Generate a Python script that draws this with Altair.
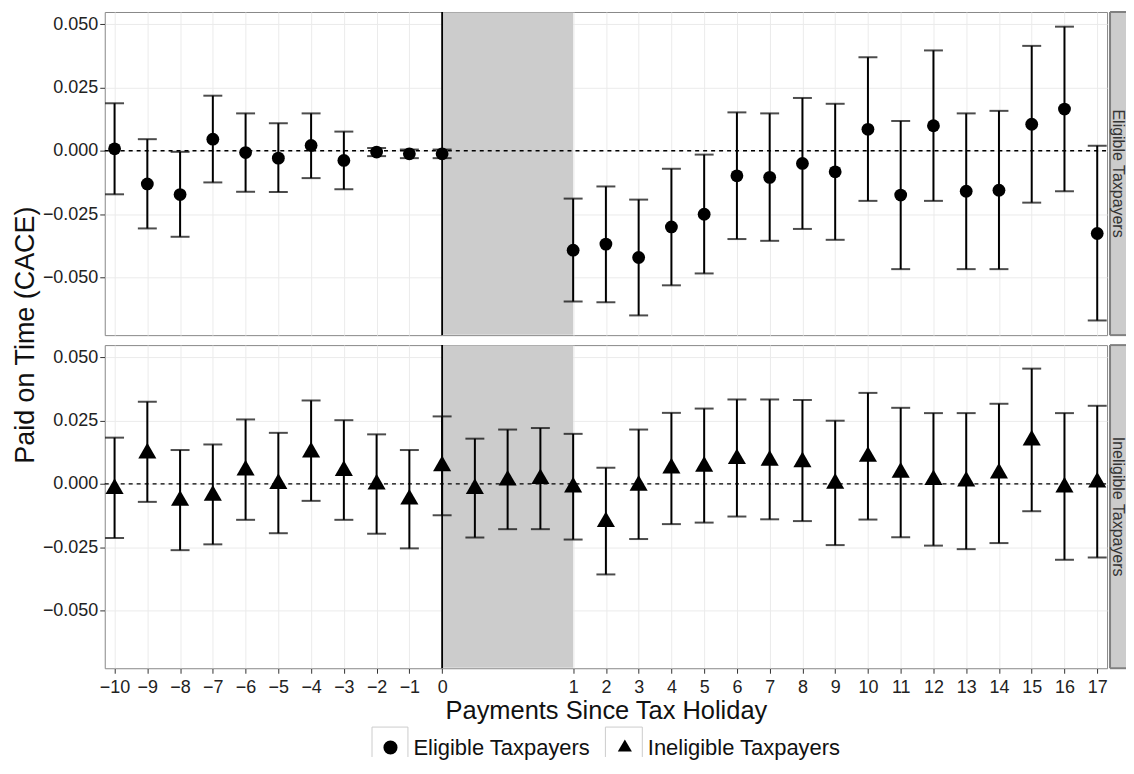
import altair as alt
import pandas as pd

PANELS = ["Eligible Taxpayers", "Ineligible Taxpayers"]

# Positions on the x scale: -10..0 before the holiday, 1..3 inside it,
# 4..20 after it (shown as payments 1..17)
ELIG_X = [-10, -9, -8, -7, -6, -5, -4, -3, -2, -1, 0,
          4, 5, 6, 7, 8, 9, 10, 11, 12, 13, 14, 15, 16, 17, 18, 19, 20]
ELIG_EST = [0.0008, -0.0131, -0.0173, 0.0046, -0.0007, -0.0029, 0.0021, -0.0038, -0.0005, -0.0012, -0.0012,
            -0.0393, -0.0369, -0.0422, -0.0301, -0.0251, -0.0099, -0.0105, -0.0050, -0.0083, 0.0085,
            -0.0175, 0.0099, -0.0160, -0.0156, 0.0105, 0.0165, -0.0327]
ELIG_LO = [-0.0172, -0.0307, -0.0340, -0.0125, -0.0162, -0.0163, -0.0108, -0.0152, -0.0021, -0.0029, -0.0029,
           -0.0596, -0.0599, -0.0651, -0.0532, -0.0485, -0.0349, -0.0356, -0.0309, -0.0352, -0.0198,
           -0.0468, -0.0198, -0.0468, -0.0468, -0.0205, -0.0160, -0.0671]
ELIG_HI = [0.0188, 0.0046, -0.0004, 0.0218, 0.0148, 0.0109, 0.0148, 0.0076, 0.0011, 0.0005, 0.0005,
           -0.0189, -0.0141, -0.0193, -0.0071, -0.0015, 0.0152, 0.0148, 0.0209, 0.0186, 0.0370,
           0.0118, 0.0397, 0.0148, 0.0158, 0.0415, 0.0491, 0.0020]

INEL_X = [-10, -9, -8, -7, -6, -5, -4, -3, -2, -1, 0, 1, 2, 3,
          4, 5, 6, 7, 8, 9, 10, 11, 12, 13, 14, 15, 16, 17, 18, 19, 20]
INEL_EST = [-0.0019, 0.0121, -0.0066, -0.0046, 0.0054, 0.0001, 0.0125, 0.0052, -0.0001, -0.0061, 0.0071,
            -0.0019, 0.0014, 0.0020,
            -0.0013, -0.0150, -0.0006, 0.0062, 0.0069, 0.0099, 0.0093, 0.0087, 0.0002, 0.0108,
            0.0045, 0.0016, 0.0010, 0.0042, 0.0173, -0.0013, 0.0006]
INEL_LO = [-0.0214, -0.0071, -0.0262, -0.0239, -0.0142, -0.0195, -0.0067, -0.0142, -0.0197, -0.0255, -0.0124,
           -0.0212, -0.0179, -0.0179,
           -0.0220, -0.0358, -0.0218, -0.0159, -0.0153, -0.0129, -0.0140, -0.0147, -0.0242, -0.0141,
           -0.0211, -0.0244, -0.0258, -0.0234, -0.0108, -0.0300, -0.0291]
INEL_HI = [0.0183, 0.0325, 0.0134, 0.0156, 0.0255, 0.0202, 0.0330, 0.0252, 0.0196, 0.0134, 0.0267,
           0.0179, 0.0215, 0.0221,
           0.0198, 0.0064, 0.0215, 0.0281, 0.0298, 0.0334, 0.0334, 0.0332, 0.0250, 0.0360,
           0.0301, 0.0280, 0.0280, 0.0317, 0.0456, 0.0280, 0.0309]

HOLIDAY = [0, 4]
X_TICKS = [-10, -9, -8, -7, -6, -5, -4, -3, -2, -1, 0,
           4, 5, 6, 7, 8, 9, 10, 11, 12, 13, 14, 15, 16, 17, 18, 19, 20]
Y_TICKS = [-0.05, -0.025, 0.0, 0.025, 0.05]
X_DOMAIN = [-10.3, 20.3]
Y_DOMAIN = [-0.0729, 0.0549]

W, H = 1005, 324
FONT = "Liberation Sans"
TRI = "M0,-1.155L1,0.577L-1,0.577Z"

elig = pd.DataFrame({"x": ELIG_X, "est": ELIG_EST, "lo": ELIG_LO, "hi": ELIG_HI, "group": PANELS[0]})
inel = pd.DataFrame({"x": INEL_X, "est": INEL_EST, "lo": INEL_LO, "hi": INEL_HI, "group": PANELS[1]})
hol = pd.DataFrame({"start": [HOLIDAY[0]], "end": [HOLIDAY[1]], "zero": [0.0]})


def make_panel(df, label, size, bottom):
    xs = alt.Scale(domain=X_DOMAIN, nice=False, zero=False)
    ys = alt.Scale(domain=Y_DOMAIN, nice=False, zero=False)
    xaxis = alt.Axis(values=X_TICKS, grid=True, domain=False, labels=bottom, ticks=bottom,
                     labelExpr="datum.value >= 4 ? format(datum.value - 3, 'd') : format(datum.value, 'd')",
                     title="Payments Since Tax Holiday" if bottom else None,
                     labelPadding=5, titlePadding=2, labelFlush=False, labelOverlap=False)
    yaxis = alt.Axis(values=Y_TICKS, format=".3f", grid=True, domain=False, labelPadding=2,
                     title=None if bottom else "Paid on Time (CACE)",
                     titleX=-79, titleY=323.5, titleAngle=270, titleAlign="center",
                     titleBaseline="middle", titleFontSize=27)

    def X(f):
        return alt.X(f, type="quantitative", scale=xs, axis=xaxis)

    def Y(f):
        return alt.Y(f, type="quantitative", scale=ys, axis=yaxis)

    shade = alt.Chart(hol).mark_rect(color="#cccccc").encode(
        x=X("start"), x2="end", y=alt.value(0.5), y2=alt.value(H - 0.5))
    vline = alt.Chart(hol).mark_rule(color="black", strokeWidth=1.8).encode(
        x=X("start"), y=alt.value(0), y2=alt.value(H))
    hline = alt.Chart(hol).mark_rule(color="black", strokeWidth=1.4, strokeDash=[4, 4]).encode(
        y=Y("zero"), x=alt.value(0), x2=alt.value(W))
    bars = alt.Chart(df).mark_rule(color="black", strokeWidth=2).encode(
        x=X("x"), y=Y("lo"), y2="hi")
    cap_lo = alt.Chart(df).mark_tick(orient="horizontal", size=19, thickness=2, color="black").encode(
        x=X("x"), y=Y("lo"))
    cap_hi = alt.Chart(df).mark_tick(orient="horizontal", size=19, thickness=2, color="black").encode(
        x=X("x"), y=Y("hi"))
    pts = alt.Chart(df).mark_point(filled=True, size=size, opacity=1, color="black").encode(
        x=X("x"), y=Y("est"),
        shape=alt.Shape("group:N", scale=alt.Scale(domain=PANELS, range=["circle", TRI]),
                        legend=alt.Legend(orient="none", legendX=275.5, legendY=726.5,
                                          direction="horizontal", title=None,
                                          labelFontSize=22, labelFont=FONT, labelColor="#111",
                                          labelLimit=0,
                                          symbolSize=200, symbolFillColor="black",
                                          symbolStrokeWidth=0, labelOffset=12,
                                          columnPadding=23, padding=0)))

    strip_df = pd.DataFrame({"label": [label]})
    strip_fill = alt.Chart(strip_df).mark_rect(color="#cccccc").encode(
        x=alt.value(W + 3), x2=alt.value(W + 22), y=alt.value(0), y2=alt.value(H))
    strip_l = alt.Chart(strip_df).mark_rule(color="#808080", strokeWidth=2).encode(
        x=alt.value(W + 3), y=alt.value(0), y2=alt.value(H))
    strip_t = alt.Chart(strip_df).mark_rule(color="#808080", strokeWidth=2).encode(
        x=alt.value(W + 3), x2=alt.value(W + 22), y=alt.value(0))
    strip_b = alt.Chart(strip_df).mark_rule(color="#808080", strokeWidth=2).encode(
        x=alt.value(W + 3), x2=alt.value(W + 22), y=alt.value(H))
    strip_txt = alt.Chart(strip_df).mark_text(angle=90, fontSize=16, color="#333333", font=FONT,
                                              align="center", baseline="middle").encode(
        x=alt.value(W + 10.5), y=alt.value(H / 2), text="label:N")

    layers = [shade, vline, hline, bars, cap_lo, cap_hi, pts,
              strip_fill, strip_l, strip_t, strip_b, strip_txt]
    if bottom:
        for x0, x1 in [(268, 304), (502, 539)]:
            for spec in [dict(x=alt.value(x0), y=alt.value(383), y2=alt.value(413)),
                         dict(x=alt.value(x1), y=alt.value(383), y2=alt.value(413)),
                         dict(x=alt.value(x0), x2=alt.value(x1), y=alt.value(383))]:
                layers.append(alt.Chart(strip_df).mark_rule(color="#cccccc", strokeWidth=1).encode(**spec))
    return alt.layer(*layers).properties(width=W, height=H)


top = make_panel(elig, PANELS[0], 165, False)
bot = make_panel(inel, PANELS[1], 330, True)

chart = alt.vconcat(top, bot, spacing=10, bounds="flush").resolve_scale(
    shape="shared", x="shared", y="independent"
).properties(
    padding={"left": 3, "top": 1, "right": -5, "bottom": 0}
).configure(font=FONT).configure_view(
    stroke="#888888", strokeWidth=1
).configure_axis(
    gridColor="#ebebeb", gridWidth=1, labelFont=FONT, labelFontSize=18, labelColor="#222222",
    tickColor="#333333", tickSize=5, tickWidth=1, titleFont=FONT, titleFontSize=25.5,
    titleFontWeight="normal", titleColor="#111111"
)

chart.save("out.html", embed_options={"renderer": "svg", "actions": False})
